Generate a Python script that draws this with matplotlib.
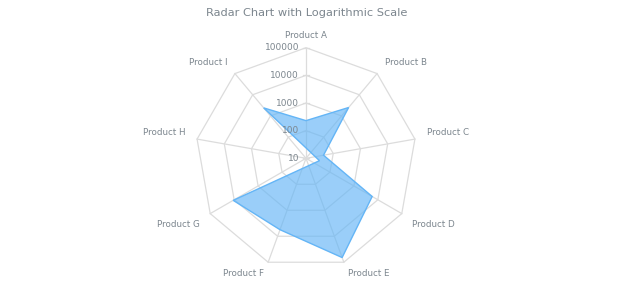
import numpy as np
import matplotlib
matplotlib.use("Agg")
import matplotlib.pyplot as plt
from matplotlib.patches import Polygon

# data (log scale, min 10)
categories = ["Product A", "Product B", "Product C", "Product D", "Product E",
              "Product F", "Product G", "Product H", "Product I"]
values = [230, 2500, 44, 5800, 66000, 5600, 11000, 3.2, 2400]
ticks = [10, 100, 1000, 10000, 100000]

# layout in pixels
cx, cy = 306, 158.3
R = 110.6
vmin, vmax = 10, 100000
dec = R / (np.log10(vmax) - np.log10(vmin))

grey = "#7c868e"
gridc = "#dcdcdc"
blue = "#64b5f6"

fig = plt.figure(figsize=(6.2, 3.0), dpi=100)
ax = fig.add_axes([0, 0, 1, 1])
ax.set_xlim(0, 620)
ax.set_ylim(300, 0)
ax.axis("off")

n = len(categories)
ang = np.arange(n) * 2 * np.pi / n
sx, sy = np.sin(ang), -np.cos(ang)


def rad(v):
    return (np.log10(v) - np.log10(vmin)) * dec


# rings and spokes
for t in ticks[1:]:
    rr = rad(t)
    ring = Polygon(np.column_stack([cx + rr * sx, cy + rr * sy]), closed=True,
                   fill=False, edgecolor=gridc, lw=0.9, zorder=1)
    ax.add_patch(ring)
for i in range(n):
    ax.plot([cx, cx + R * sx[i]], [cy, cy + R * sy[i]], color=gridc, lw=0.9, zorder=1)

# series
r = rad(np.array(values))
pts = np.column_stack([cx + r * sx, cy + r * sy])
ax.add_patch(Polygon(pts, closed=True, facecolor=blue, alpha=0.65, edgecolor="none", zorder=2))
ax.add_patch(Polygon(pts, closed=True, fill=False, edgecolor=blue, lw=1, zorder=3))

# radial tick labels on the A spoke
for t in ticks:
    yy = cy - rad(t)
    ax.plot([cx - 3, cx + 3], [yy, yy], color=gridc, lw=0.9, zorder=1)
    ax.text(cx - 7, yy, str(t), ha="right", va="center", fontsize=6.5, color=grey, zorder=4)

# category labels
for i, c in enumerate(categories):
    lr = R + 12
    x = cx + lr * sx[i]
    y = cy + lr * sy[i]
    va = "center"
    if abs(sx[i]) < 0.1:
        ha = "center"
    elif sx[i] > 0:
        ha = "left"
    else:
        ha = "right"
    if 0.1 < abs(sx[i]) and abs(sy[i]) < 0.3:
        va = "bottom"
    elif 0.3 < sy[i] < 0.7:
        va = "top"
    elif -0.9 < sy[i] < -0.5:
        y -= 2
    ax.text(x, y, c, ha=ha, va=va, fontsize=6.3, color=grey)

ax.text(307, 13, "Radar Chart with Logarithmic Scale", ha="center", va="center",
        fontsize=8.2, color=grey)

fig.savefig("out.png", dpi=100)
